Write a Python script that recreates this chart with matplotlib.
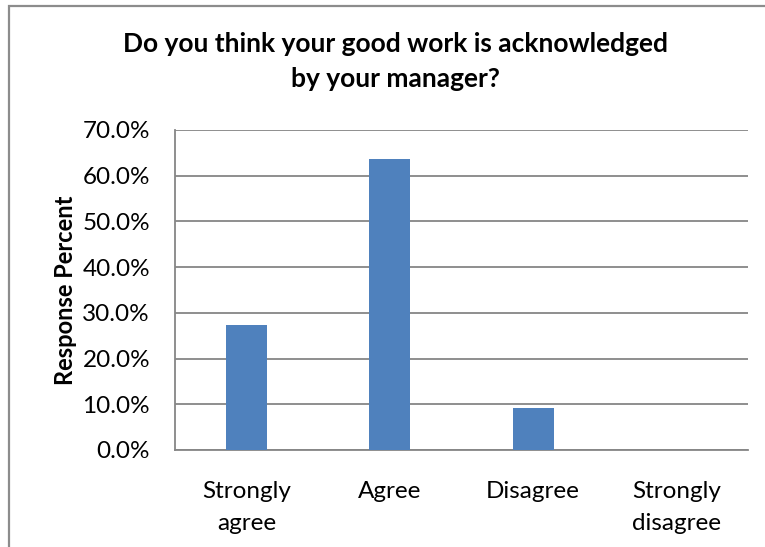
import matplotlib.pyplot as plt
from matplotlib.patches import Rectangle
from matplotlib.ticker import FuncFormatter, MultipleLocator

categories = ['Strongly\nagree', 'Agree', 'Disagree', 'Strongly\ndisagree']
response_pct = [27.3, 63.6, 9.1, 0.0]

plt.rcParams['font.family'] = ['Lato', 'DejaVu Sans']

W, H = 765, 547
fig = plt.figure(figsize=(W / 100, H / 100), dpi=100)

# plot area in pixel terms: left 175, right 748, top 130, bottom 450
ax = fig.add_axes([175 / W, 1 - 450 / H, (748 - 175) / W, (450 - 130) / H])

grid_c = '#868686'
ax.bar(range(len(categories)), response_pct, width=0.286, color='#4f81bd', zorder=3)
ax.set_xlim(-0.5, len(categories) - 0.5)
ax.set_ylim(0, 70)
ax.yaxis.set_major_locator(MultipleLocator(10))
ax.yaxis.set_major_formatter(FuncFormatter(lambda v, p: '%.1f%%' % v))
ax.set_xticks(range(len(categories)))
ax.set_xticklabels(categories, linespacing=1.65)
ax.tick_params(axis='x', length=0, pad=22, labelsize=17.5, colors='black')
ax.tick_params(axis='y', length=0, pad=18, labelsize=17.5, colors='black')
ax.grid(axis='y', color=grid_c, linewidth=1.3, zorder=0)
for s in ['top', 'right']:
    ax.spines[s].set_visible(False)
for s in ['left', 'bottom']:
    ax.spines[s].set_color(grid_c)
    ax.spines[s].set_linewidth(1.3)

ax.set_ylabel('Response Percent', fontsize=17, fontweight='bold', labelpad=4)

fig.text(395 / W, 1 - 62 / H,
         'Do you think your good work is acknowledged\nby your manager?',
         ha='center', va='center', fontsize=19, fontweight='bold', linespacing=1.55)

# chart area frame, running off the right and bottom edges
fig.patches.append(Rectangle((8.5 / W, -0.1), 1.2, 1.1 - 5.5 / H,
                             transform=fig.transFigure, fill=False,
                             edgecolor='#8c8c8c', linewidth=1.6))

fig.savefig('out.png', dpi=100)
